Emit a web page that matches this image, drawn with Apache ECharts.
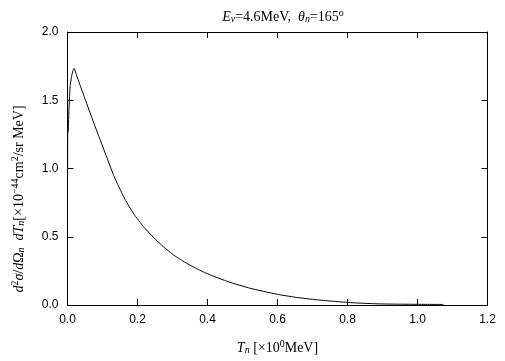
<!DOCTYPE html>
<html><head><meta charset="utf-8">
<script src="https://cdn.jsdelivr.net/npm/echarts@6/dist/echarts.min.js"></script>
<style>html,body{margin:0;padding:0;background:#fff}#c{width:505px;height:361px}</style>
</head><body><div id="c"></div>
<script>
const tn = [0.0003,0.0006,0.002,0.0045,0.0075,0.012,0.016,0.019,0.025,0.036,0.05,0.074,0.09,0.112,0.131,0.145,0.164,0.19,0.217,0.245,0.274,0.305,0.341,0.375,0.407,0.459,0.521,0.598,0.65,0.712,0.75,0.798,0.85,0.893,0.95,1.0,1.074];
const sigma = [0.95,1.26,1.27,1.45,1.60,1.68,1.72,1.734,1.69,1.61,1.51,1.342,1.232,1.084,0.955,0.875,0.775,0.665,0.574,0.497,0.427,0.363,0.305,0.258,0.221,0.171,0.123,0.079,0.057,0.038,0.029,0.019,0.012,0.008,0.006,0.005,0.004];
const xTicks = [0,0.2,0.4,0.6,0.8,1.0,1.2];
const yTicks = [0,0.5,1.0,1.5,2.0];

const serif = '"Liberation Serif", "DejaVu Serif", serif';
const sans = '"Liberation Sans", Arial, sans-serif';
const base = {fontFamily: serif, color: '#000', fontWeight: 'normal'};
const richBase = {
  n: Object.assign({fontSize: 14, lineHeight: 16, verticalAlign: 'bottom'}, base),
  i: Object.assign({fontSize: 14, fontStyle: 'italic', lineHeight: 16, verticalAlign: 'bottom'}, base),
  sub: Object.assign({fontSize: 10, fontStyle: 'italic', lineHeight: 11, verticalAlign: 'bottom'}, base),
  sup: Object.assign({fontSize: 10, lineHeight: 13, verticalAlign: 'top'}, base)
};
const tickFmt = v => v.toFixed(1);
const axisCommon = {
  type: 'value',
  axisLine: {show: true, onZero: false, lineStyle: {color: '#000', width: 1}},
  axisTick: {show: true, inside: true, length: 6, lineStyle: {color: '#000'}},
  splitLine: {show: false}
};
const chart = echarts.init(document.getElementById('c'), null, {renderer: 'canvas'});
chart.setOption({
  animation: false,
  backgroundColor: '#fff',
  title: {
    text: '{i|E}{sub|ν}{n|=4.6MeV,  }{i|θ}{sub|n}{n|=165}{sup|o}',
    left: 278, top: 3, textAlign: 'center',
    textStyle: {rich: richBase, fontSize: 14, fontFamily: serif, fontWeight: 'normal'}
  },
  grid: {left: 67.5, right: 17.5, top: 32, bottom: 56, containLabel: false},
  xAxis: [Object.assign({}, axisCommon, {
    min: xTicks[0], max: xTicks[xTicks.length - 1], interval: 0.2,
    axisLabel: {formatter: tickFmt, color: '#000', fontFamily: sans, fontSize: 12, margin: 9},
    name: '{i|T}{sub|n}{n| [×10}{sup|0}{n|MeV]}',
    nameLocation: 'middle', nameGap: 34,
    nameTextStyle: {rich: richBase}
  }), Object.assign({}, axisCommon, {
    min: xTicks[0], max: xTicks[xTicks.length - 1], interval: 0.2, position: 'top',
    axisLabel: {show: false}
  })],
  yAxis: [Object.assign({}, axisCommon, {
    min: yTicks[0], max: yTicks[yTicks.length - 1], interval: 0.5,
    axisLabel: {formatter: tickFmt, color: '#000', fontFamily: sans, fontSize: 12, margin: 9}
  }), Object.assign({}, axisCommon, {
    min: yTicks[0], max: yTicks[yTicks.length - 1], interval: 0.5, position: 'right',
    axisLabel: {show: false}
  })],
  graphic: [{
    type: 'text', x: 18, y: 199, rotation: Math.PI / 2,
    style: {
      text: '{i|d}{sup|2}{i|σ}{n|/}{i|d}{n|Ω}{sub|n}{n|  }{i|dT}{sub|n}{n|[×10}{sup|−44}{n|cm}{sup|2}{n|/sr MeV]}',
      rich: richBase, align: 'center', verticalAlign: 'middle', fill: '#000'
    }
  }],
  series: [{
    type: 'line', xAxisIndex: 0, yAxisIndex: 0,
    data: tn.map((t, k) => [t, sigma[k]]),
    showSymbol: false, symbol: 'none', smooth: 0.15,
    lineStyle: {color: '#000', width: 1}
  }]
});
</script></body></html>
